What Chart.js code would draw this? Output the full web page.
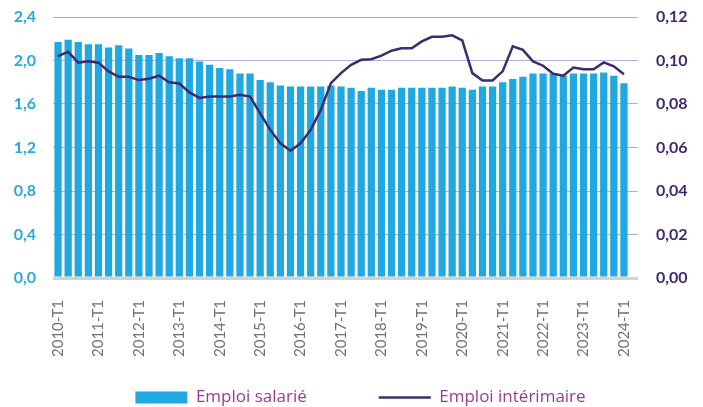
<!DOCTYPE html>
<html>
<head>
    <title>Emploi salarié et intérimaire</title>
    <script src="https://cdn.jsdelivr.net/npm/chart.js"></script>
    <style>
        body { margin: 0; background: #fff; }
        #wrap { width: 703px; height: 407px; }
    </style>
</head>
<body>
<div id="wrap"><canvas id="myChart"></canvas></div>
<script>
// quarters 2010-T1 .. 2024-T1
const years = [2010, 2011, 2012, 2013, 2014, 2015, 2016, 2017, 2018, 2019, 2020, 2021, 2022, 2023, 2024];
const quarters = ['T1', 'T2', 'T3', 'T4'];

// left axis - Emploi salarié
const emploiSalarie = [
    2.17, 2.19, 2.17, 2.15, 2.15, 2.12, 2.14, 2.11, 2.05, 2.05,
    2.07, 2.04, 2.02, 2.02, 1.99, 1.96, 1.93, 1.92, 1.88, 1.88,
    1.82, 1.80, 1.77, 1.76, 1.76, 1.76, 1.76, 1.77, 1.76, 1.75,
    1.72, 1.75, 1.73, 1.73, 1.75, 1.75, 1.75, 1.75, 1.75, 1.76,
    1.75, 1.73, 1.76, 1.76, 1.80, 1.83, 1.85, 1.88, 1.88, 1.88,
    1.86, 1.88, 1.88, 1.88, 1.89, 1.86, 1.79
];

// right axis - Emploi intérimaire
const emploiInterimaire = [
    0.102, 0.104, 0.099, 0.0997, 0.099, 0.095, 0.0925, 0.0925, 0.091, 0.0916,
    0.093, 0.090, 0.0894, 0.0853, 0.0828, 0.0834, 0.0834, 0.0834, 0.0842, 0.0834,
    0.0757, 0.0681, 0.0619, 0.0585, 0.0619, 0.0681, 0.0773, 0.0896, 0.0942, 0.098,
    0.1003, 0.1006, 0.1022, 0.1045, 0.1056, 0.1056, 0.1088, 0.1109, 0.1109, 0.1116,
    0.1092, 0.0942, 0.0908, 0.0908, 0.095, 0.1065, 0.1049, 0.0996, 0.0976, 0.0939,
    0.093, 0.0968, 0.096, 0.096, 0.0991, 0.0973, 0.0937
];

const leftTicks = [0, 0.4, 0.8, 1.2, 1.6, 2.0, 2.4];
const rightTicks = [0, 0.02, 0.04, 0.06, 0.08, 0.10, 0.12];

let labels = [];
years.forEach(y => {
    quarters.forEach(q => {
        if (labels.length < emploiSalarie.length) labels.push(y + '-' + q);
    });
});

const blue = '#22a8e0';
const purple = '#3e2a6f';
const gridColor = ctx => ctx.tick && ctx.tick.value === 0 ? '#d2d2d2' : '#aeb0dc';
const gridWidth = ctx => ctx.tick && ctx.tick.value === 0 ? 3 : 1;

const ctx = document.getElementById('myChart').getContext('2d');
const myChart = new Chart(ctx, {
    type: 'bar',
    data: {
        labels: labels,
        datasets: [{
            type: 'line',
            label: 'Emploi intérimaire',
            data: emploiInterimaire,
            yAxisID: 'y1',
            borderColor: purple,
            backgroundColor: purple,
            borderWidth: 2.5,
            pointRadius: 0,
            pointStyle: 'line',
            tension: 0,
            order: 0
        }, {
            label: 'Emploi salarié\u2003\u2003\u2003\u2003',
            data: emploiSalarie,
            yAxisID: 'y',
            backgroundColor: blue,
            borderWidth: 0,
            barPercentage: 0.72,
            categoryPercentage: 1,
            pointStyle: 'rect',
            order: 1
        }]
    },
    options: {
        responsive: true,
        maintainAspectRatio: false,
        animation: false,
        // negative right padding so the legend centres like the original
        layout: { padding: { top: 17, left: 0, right: -18, bottom: -9 } },
        plugins: {
            tooltip: { enabled: false },
            legend: {
                position: 'bottom',
                reverse: true,
                labels: {
                    usePointStyle: true,
                    pointStyleWidth: 52,
                    boxHeight: 12,
                    padding: 4,
                    color: '#9c3a98',
                    font: { family: 'Open Sans', size: 17 }
                }
            }
        },
        scales: {
            x: {
                grid: { display: false },
                border: { display: false },
                ticks: {
                    autoSkip: false,
                    minRotation: 90,
                    maxRotation: 90,
                    color: '#707173',
                    padding: 14,
                    font: { family: 'Lato', size: 15 },
                    callback: function(value, index) {
                        return index % 4 === 0 ? labels[index] : '';
                    }
                },
                afterFit: function(scale) { scale.height = 107; }
            },
            y: {
                position: 'left',
                min: 0,
                max: 2.4,
                afterBuildTicks: function(scale) {
                    scale.ticks = leftTicks.map(v => ({ value: v }));
                },
                grid: {
                    drawTicks: true,
                    tickLength: 17,
                    tickColor: 'rgba(0,0,0,0)',
                    color: gridColor,
                    lineWidth: gridWidth
                },
                border: { display: false },
                ticks: {
                    color: '#29a9e0',
                    padding: 0,
                    font: { family: 'Lato', size: 16, weight: 'bold' },
                    callback: v => v.toFixed(1).replace('.', ',')
                },
                afterFit: function(scale) { scale.width = 53; }
            },
            y1: {
                position: 'right',
                min: 0,
                max: 0.12,
                afterBuildTicks: function(scale) {
                    scale.ticks = rightTicks.map(v => ({ value: v }));
                },
                // gridlines run a bit past the last bar, then the labels
                grid: {
                    drawOnChartArea: false,
                    drawTicks: true,
                    tickLength: 27,
                    tickBorderDash: [9, 60],
                    tickColor: gridColor,
                    tickWidth: gridWidth
                },
                border: { display: false },
                ticks: {
                    color: purple,
                    padding: 0,
                    font: { family: 'Lato', size: 16, weight: 'bold' },
                    callback: v => v.toFixed(2).replace('.', ',')
                },
                afterFit: function(scale) { scale.width = 92; }
            }
        }
    }
});
</script>
</body>
</html>
